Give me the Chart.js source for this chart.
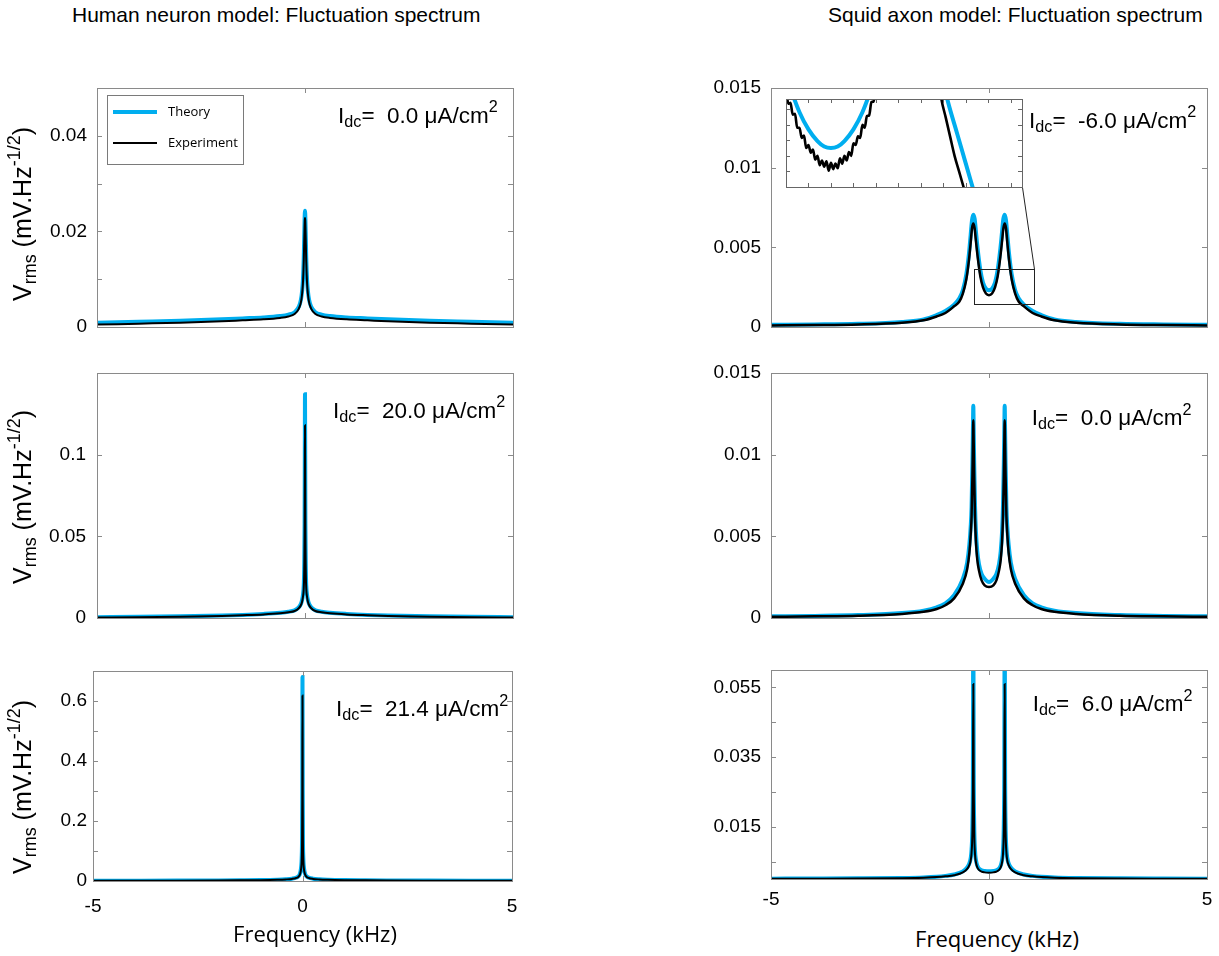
<!DOCTYPE html>
<html>
<head>
<meta charset="utf-8">
<script src="https://cdn.jsdelivr.net/npm/chart.js@4.4.1/dist/chart.umd.min.js"></script>
<style>
  body { margin: 0; width: 1219px; height: 956px; position: relative; overflow: hidden; background: #fff;
         font-family: Arial, "Liberation Sans", sans-serif; color: #000; }
  canvas { position: absolute; }
  .txt { position: absolute; line-height: 0; white-space: nowrap; z-index: 5; }
  .title { font-size: 21px; }
  .note { font-size: 22.5px; }
  .xlab { font-family: "Open Sans", sans-serif; font-size: 22px; transform: translateX(-50%); }
  .ylab { position: absolute; z-index: 5; font-size: 25px; line-height: 25px; white-space: nowrap;
          transform: translate(-50%, -50%) rotate(-90deg); }
  .sb { position: relative; top: 0.28em; font-size: 0.72em; }
  .sp { position: relative; top: -0.62em; font-size: 0.72em; }
</style>
</head>
<body>

<div class="txt title" style="left:72px;top:14.7px">Human neuron model: Fluctuation spectrum</div>
<div class="txt title" style="left:828px;top:14.7px">Squid axon model: Fluctuation spectrum</div>

<div class="ylab" style="left:24px;top:214px">V<span class="sb">rms</span> (mV.Hz<span class="sp">-1/2</span>)</div>
<div class="ylab" style="left:24px;top:497px">V<span class="sb">rms</span> (mV.Hz<span class="sp">-1/2</span>)</div>
<div class="ylab" style="left:24px;top:787px">V<span class="sb">rms</span> (mV.Hz<span class="sp">-1/2</span>)</div>

<div class="txt note" style="left:338px;top:115.5px">I<span class="sb">dc</span>=&nbsp; 0.0 &mu;A/cm<span class="sp">2</span></div>
<div class="txt note" style="left:333px;top:410.5px">I<span class="sb">dc</span>=&nbsp; 20.0 &mu;A/cm<span class="sp">2</span></div>
<div class="txt note" style="left:336px;top:708.9px">I<span class="sb">dc</span>=&nbsp; 21.4 &mu;A/cm<span class="sp">2</span></div>
<div class="txt note" style="left:1029px;top:120.5px">I<span class="sb">dc</span>=&nbsp; -6.0 &mu;A/cm<span class="sp">2</span></div>
<div class="txt note" style="left:1031.7px;top:417.9px">I<span class="sb">dc</span>=&nbsp; 0.0 &mu;A/cm<span class="sp">2</span></div>
<div class="txt note" style="left:1032.7px;top:703.9px">I<span class="sb">dc</span>=&nbsp; 6.0 &mu;A/cm<span class="sp">2</span></div>

<div class="txt xlab" style="left:315px;top:933px">Frequency (kHz)</div>
<div class="txt xlab" style="left:997px;top:938px">Frequency (kHz)</div>

<script>
// ---- data (kHz, mV.Hz^-1/2) ----
const freqHuman = [-5, -4, -3, -2, -1.5, -1, -0.6, -0.4, -0.25, -0.15, -0.1, -0.07, -0.05, -0.03, -0.02, -0.01, -0.005, 0,
                   0.005, 0.01, 0.02, 0.03, 0.05, 0.07, 0.1, 0.15, 0.25, 0.4, 0.6, 1, 1.5, 2, 3, 4, 5];

// human neuron, Idc = 0.0
const theoryH1 = [0.0009, 0.0011, 0.0013, 0.0016, 0.0018, 0.002, 0.0023, 0.0026, 0.0031, 0.0042, 0.0056, 0.0075, 0.0098, 0.0145, 0.0185, 0.0225, 0.0238, 0.0243,
                  0.0238, 0.0225, 0.0185, 0.0145, 0.0098, 0.0075, 0.0056, 0.0042, 0.0031, 0.0026, 0.0023, 0.002, 0.0018, 0.0016, 0.0013, 0.0011, 0.0009];
const exptH1 = [0.0005, 0.0007, 0.0009, 0.0012, 0.0014, 0.0016, 0.0019, 0.0022, 0.0027, 0.0038, 0.0051, 0.0069, 0.0091, 0.0136, 0.0174, 0.021, 0.0223, 0.0228,
                0.0223, 0.021, 0.0174, 0.0136, 0.0091, 0.0069, 0.0051, 0.0038, 0.0027, 0.0022, 0.0019, 0.0016, 0.0014, 0.0012, 0.0009, 0.0007, 0.0005];

// human neuron, Idc = 20.0
const theoryH2 = [0.0005, 0.0007, 0.001, 0.0015, 0.0019, 0.0025, 0.0032, 0.0038, 0.0047, 0.0065, 0.0085, 0.011, 0.014, 0.02, 0.03, 0.058, 0.1, 0.137,
                  0.1, 0.058, 0.03, 0.02, 0.014, 0.011, 0.0085, 0.0065, 0.0047, 0.0038, 0.0032, 0.0025, 0.0019, 0.0015, 0.001, 0.0007, 0.0005];
const exptH2 = [0.0003, 0.0005, 0.0008, 0.0013, 0.0017, 0.0022, 0.0029, 0.0035, 0.0043, 0.006, 0.0078, 0.01, 0.0128, 0.018, 0.027, 0.052, 0.088, 0.118,
                0.088, 0.052, 0.027, 0.018, 0.0128, 0.01, 0.0078, 0.006, 0.0043, 0.0035, 0.0029, 0.0022, 0.0017, 0.0013, 0.0008, 0.0005, 0.0003];

// human neuron, Idc = 21.4
const theoryH3 = [0.001, 0.0012, 0.0015, 0.002, 0.0025, 0.0032, 0.0045, 0.0058, 0.0078, 0.011, 0.015, 0.021, 0.03, 0.05, 0.075, 0.15, 0.3, 0.68,
                  0.3, 0.15, 0.075, 0.05, 0.03, 0.021, 0.015, 0.011, 0.0078, 0.0058, 0.0045, 0.0032, 0.0025, 0.002, 0.0015, 0.0012, 0.001];
const exptH3 = [0.0006, 0.0008, 0.0011, 0.0016, 0.0021, 0.0028, 0.004, 0.0052, 0.007, 0.01, 0.0137, 0.019, 0.027, 0.045, 0.068, 0.136, 0.27, 0.618,
                0.27, 0.136, 0.068, 0.045, 0.027, 0.019, 0.0137, 0.01, 0.007, 0.0052, 0.004, 0.0028, 0.0021, 0.0016, 0.0011, 0.0008, 0.0006];

const freqSquidA = [-5, -4, -3, -2, -1.5, -1.2, -1, -0.8, -0.68, -0.6, -0.52, -0.46, -0.42, -0.39, -0.36, -0.33, -0.3, -0.26, -0.2, -0.14, -0.07, 0,
                    0.07, 0.14, 0.2, 0.26, 0.3, 0.33, 0.36, 0.39, 0.42, 0.46, 0.52, 0.6, 0.68, 0.8, 1, 1.2, 1.5, 2, 3, 4, 5];

// squid axon, Idc = -6.0
const theoryS1 = [0.00014, 0.00016, 0.0002, 0.00032, 0.00048, 0.00075, 0.001, 0.0014, 0.0018, 0.0023, 0.0033, 0.0046, 0.0058, 0.0067, 0.00705, 0.0068, 0.006, 0.0049, 0.0036, 0.0028, 0.0024, 0.0023,
                  0.0024, 0.0028, 0.0036, 0.0049, 0.006, 0.0068, 0.00705, 0.0067, 0.0058, 0.0046, 0.0033, 0.0023, 0.0018, 0.0014, 0.001, 0.00075, 0.00048, 0.00032, 0.0002, 0.00016, 0.00014];
const exptS1 = [0.0001, 0.00012, 0.00016, 0.00027, 0.00042, 0.00066, 0.00088, 0.0013, 0.0016, 0.0021, 0.003, 0.0042, 0.0053, 0.0062, 0.0065, 0.0062, 0.0054, 0.0044, 0.0032, 0.0025, 0.0021, 0.002,
                0.0021, 0.0025, 0.0032, 0.0044, 0.0054, 0.0062, 0.0065, 0.0062, 0.0053, 0.0042, 0.003, 0.0021, 0.0016, 0.0013, 0.00088, 0.00066, 0.00042, 0.00027, 0.00016, 0.00012, 0.0001];

const freqSquidB = [-5, -4, -3, -2, -1.5, -1.2, -1, -0.8, -0.6, -0.5, -0.45, -0.42, -0.4, -0.38, -0.37, -0.36, -0.35, -0.34, -0.32, -0.3, -0.27, -0.23, -0.17, -0.1, 0,
                    0.1, 0.17, 0.23, 0.27, 0.3, 0.32, 0.34, 0.35, 0.36, 0.37, 0.38, 0.4, 0.42, 0.45, 0.5, 0.6, 0.8, 1, 1.2, 1.5, 2, 3, 4, 5];

// squid axon, Idc = 0.0
const theoryS2 = [0.0001, 0.00013, 0.00018, 0.0003, 0.00045, 0.00065, 0.0009, 0.0014, 0.0024, 0.0034, 0.0045, 0.0056, 0.0068, 0.0095, 0.0113, 0.013, 0.0113, 0.0095, 0.0068, 0.0053, 0.0041, 0.0033, 0.0027, 0.0024, 0.0022,
                  0.0024, 0.0027, 0.0033, 0.0041, 0.0053, 0.0068, 0.0095, 0.0113, 0.013, 0.0113, 0.0095, 0.0068, 0.0056, 0.0045, 0.0034, 0.0024, 0.0014, 0.0009, 0.00065, 0.00045, 0.0003, 0.00018, 0.00013, 0.0001];
const exptS2 = [0.00007, 0.0001, 0.00014, 0.00025, 0.00038, 0.00055, 0.00078, 0.0012, 0.0021, 0.003, 0.004, 0.0051, 0.0062, 0.0087, 0.0105, 0.0121, 0.0105, 0.0087, 0.0061, 0.0047, 0.0036, 0.0029, 0.0023, 0.002, 0.0019,
                0.002, 0.0023, 0.0029, 0.0036, 0.0047, 0.0061, 0.0087, 0.0105, 0.0121, 0.0105, 0.0087, 0.0062, 0.0051, 0.004, 0.003, 0.0021, 0.0012, 0.00078, 0.00055, 0.00038, 0.00025, 0.00014, 0.0001, 0.00007];

// squid axon, Idc = 6.0
const theoryS3 = [0.0001, 0.00013, 0.00018, 0.0003, 0.00045, 0.00065, 0.0009, 0.0013, 0.0022, 0.0033, 0.0045, 0.006, 0.0085, 0.016, 0.03, 0.08, 0.03, 0.016, 0.008, 0.0055, 0.0039, 0.003, 0.0025, 0.0023, 0.0022,
                  0.0023, 0.0025, 0.003, 0.0039, 0.0055, 0.008, 0.016, 0.03, 0.08, 0.03, 0.016, 0.0085, 0.006, 0.0045, 0.0033, 0.0022, 0.0013, 0.0009, 0.00065, 0.00045, 0.0003, 0.00018, 0.00013, 0.0001];
const exptS3 = [0.00006, 0.00009, 0.00013, 0.00024, 0.00037, 0.00054, 0.00076, 0.0011, 0.0019, 0.0029, 0.004, 0.0053, 0.0075, 0.014, 0.026, 0.056, 0.026, 0.014, 0.007, 0.0048, 0.0034, 0.0026, 0.0021, 0.0019, 0.0018,
                0.0019, 0.0021, 0.0026, 0.0034, 0.0048, 0.007, 0.014, 0.026, 0.056, 0.026, 0.014, 0.0075, 0.0053, 0.004, 0.0029, 0.0019, 0.0011, 0.00076, 0.00054, 0.00037, 0.00024, 0.00013, 0.00009, 0.00006];

// inset (zoom of the dip, Idc = -6.0)
const insetTheoryDipX = [-0.22, -0.18, -0.14, -0.1, -0.06, -0.03, 0, 0.03, 0.06, 0.1, 0.14, 0.18, 0.22];
const insetTheoryDip = [0.00345, 0.00307, 0.00276, 0.00254, 0.00239, 0.00232, 0.0023, 0.00232, 0.00239, 0.00254, 0.00276, 0.00307, 0.00345];
const insetTheoryFlankX = [0.48, 0.52, 0.56, 0.6, 0.64];
const insetTheoryFlank = [0.0034, 0.0029, 0.0025, 0.0021, 0.0017];
const insetExptDipX = [-0.22, -0.21, -0.2, -0.19, -0.18, -0.17, -0.16, -0.15, -0.14, -0.13, -0.12, -0.11, -0.1, -0.09, -0.08, -0.07, -0.06, -0.05, -0.04, -0.03, -0.02, -0.01, 0,
                       0.01, 0.02, 0.03, 0.04, 0.05, 0.06, 0.07, 0.08, 0.09, 0.1, 0.11, 0.12, 0.13, 0.14, 0.15, 0.16, 0.17, 0.18, 0.19, 0.2, 0.21, 0.22];
const insetExptDip = [0.00328, 0.00308, 0.00306, 0.00287, 0.00288, 0.00273, 0.00274, 0.00256, 0.00256, 0.00243, 0.00246, 0.0023, 0.00234, 0.00224, 0.00228, 0.00215, 0.0022, 0.00208, 0.00214, 0.00206, 0.00213, 0.00201, 0.00211,
                      0.00203, 0.0021, 0.00204, 0.00217, 0.0021, 0.0022, 0.00214, 0.00225, 0.0022, 0.00236, 0.00234, 0.00245, 0.00243, 0.0026, 0.00256, 0.00271, 0.00272, 0.00289, 0.0029, 0.00307, 0.00306, 0.00325];
const insetExptFlankX = [0.47, 0.49, 0.51, 0.53, 0.55, 0.57, 0.59, 0.61];
const insetExptFlank = [0.0034, 0.00295, 0.0027, 0.00245, 0.0022, 0.002, 0.0018, 0.0016];

// ticks and tick labels
const xTicksTop = [0];
const xTicksBottom = [-5, 0, 5];
const xLabelsBottom = [-5, 0, 5];
const yTicksH1 = [0, 0.01, 0.02, 0.03, 0.04];
const yLabelsH1 = [0, 0.02, 0.04];
const yTicksH2 = [0, 0.05, 0.1];
const yLabelsH2 = [0, 0.05, 0.1];
const yTicksH3 = [0, 0.1, 0.2, 0.3, 0.4, 0.5, 0.6];
const yLabelsH3 = [0, 0.2, 0.4, 0.6];
const yTicksS12 = [0, 0.005, 0.01, 0.015];
const yLabelsS12 = [0, 0.005, 0.01, 0.015];
const yTicksS3 = [0.005, 0.015, 0.025, 0.035, 0.045, 0.055];
const yLabelsS3 = [0.015, 0.035, 0.055];
const insetXTicks = [-0.2, -0.1, 0, 0.1, 0.2, 0.3, 0.4, 0.5, 0.6, 0.7, 0.8];
const insetYTicks = [0.002, 0.0022, 0.0024, 0.0026, 0.0028];
const zoomBoxX = [-0.34, 1.03];
const zoomBoxY = [0.00147, 0.00362];

// ---- styles / layout ----
const CYAN = '#00aeef';
const TICK_FONT = { family: 'Arial, "Liberation Sans", sans-serif', size: 19 };
const insetArea = [786, 99, 1022, 187];   // l, t, r, b on the page

function pts(xs, ys) {
    return xs.map((x, i) => ({ x: x, y: ys[i] }));
}

function lineSet(label, xs, ys, color, width, order) {
    return {
        label: label, data: pts(xs, ys), borderColor: color, borderWidth: width,
        pointRadius: 0, fill: false, cubicInterpolationMode: 'monotone', order: order
    };
}

// box round the plot area with inward ticks on all four sides
function boxPlugin(xTicks, yTicks, len, color, whiteBg) {
    return {
        id: 'boxTicks',
        beforeDatasetsDraw(chart) {
            if (!whiteBg) return;
            const a = chart.chartArea;
            chart.ctx.save();
            chart.ctx.fillStyle = '#fff';
            chart.ctx.fillRect(a.left, a.top, a.right - a.left, a.bottom - a.top);
            chart.ctx.restore();
        },
        afterDatasetsDraw(chart) {
            const a = chart.chartArea, ctx = chart.ctx;
            const xs = chart.scales.x, ys = chart.scales.y;
            ctx.save();
            ctx.strokeStyle = color;
            ctx.lineWidth = 1;
            ctx.beginPath();
            xTicks.forEach(v => {
                const px = Math.round(xs.getPixelForValue(v)) + 0.5;
                ctx.moveTo(px, a.bottom); ctx.lineTo(px, a.bottom - len);
                ctx.moveTo(px, a.top); ctx.lineTo(px, a.top + len);
            });
            yTicks.forEach(v => {
                const py = Math.round(ys.getPixelForValue(v)) + 0.5;
                ctx.moveTo(a.left, py); ctx.lineTo(a.left + len, py);
                ctx.moveTo(a.right, py); ctx.lineTo(a.right - len, py);
            });
            ctx.stroke();
            ctx.strokeRect(a.left + 0.5, a.top + 0.5, a.right - a.left, a.bottom - a.top);
            ctx.restore();
        }
    };
}

function legendPlugin() {
    return {
        id: 'legendBox',
        afterDraw(chart) {
            const a = chart.chartArea, ctx = chart.ctx;
            const x = a.left + 10, y = a.top + 7;
            ctx.save();
            ctx.fillStyle = '#fff';
            ctx.fillRect(x, y, 136, 69);
            ctx.strokeStyle = '#7a7a7a';
            ctx.lineWidth = 1;
            ctx.strokeRect(x + 0.5, y + 0.5, 136, 69);
            ['Theory', 'Experiment'].forEach((name, i) => {
                const d = chart.data.datasets.find(ds => ds.label === name);
                const cy = y + 17 + i * 31;
                ctx.strokeStyle = d.borderColor;
                ctx.lineWidth = d.borderWidth;
                ctx.beginPath();
                ctx.moveTo(x + 6, cy);
                ctx.lineTo(x + 50, cy);
                ctx.stroke();
                ctx.fillStyle = '#000';
                ctx.font = '13px "Open Sans", sans-serif';
                ctx.textBaseline = 'middle';
                ctx.fillText(d.label, x + 61, cy);
            });
            ctx.restore();
        }
    };
}

// zoom rectangle + connector up to the inset corner
function zoomBoxPlugin(toX, toY) {
    return {
        id: 'zoomBox',
        afterDatasetsDraw(chart) {
            const ctx = chart.ctx, xs = chart.scales.x, ys = chart.scales.y;
            const x0 = Math.round(xs.getPixelForValue(zoomBoxX[0])) + 0.5;
            const x1 = Math.round(xs.getPixelForValue(zoomBoxX[1])) + 0.5;
            const y0 = Math.round(ys.getPixelForValue(zoomBoxY[1])) + 0.5;
            const y1 = Math.round(ys.getPixelForValue(zoomBoxY[0])) + 0.5;
            ctx.save();
            ctx.strokeStyle = '#222';
            ctx.lineWidth = 1;
            ctx.strokeRect(x0, y0, x1 - x0, y1 - y0);
            ctx.beginPath();
            ctx.moveTo(x1, y0);
            ctx.lineTo(toX, toY);
            ctx.stroke();
            ctx.restore();
        }
    };
}

function makePanel(p) {
    // label offsets go through tickLength (not padding) so Chart.js adds no extra inner padding
    const yW = 80, padT = 14, padR = 10;
    const l = p.area[0], t = p.area[1], r = p.area[2], b = p.area[3];
    const cv = document.createElement('canvas');
    cv.width = r - l + yW + padR;
    cv.height = b - t + padT + p.xH;
    cv.style.left = (l - yW) + 'px';
    cv.style.top = (t - padT) + 'px';
    cv.style.zIndex = 1;
    document.body.appendChild(cv);

    const plugins = [boxPlugin(p.xTicks, p.yTicks, 5, '#8a8a8a', false)];
    if (p.legend) plugins.push(legendPlugin());
    if (p.zoom) plugins.push(zoomBoxPlugin(insetArea[2] - (l - yW) + 0.5, insetArea[3] - (t - padT) + 0.5));

    return new Chart(cv, {
        type: 'line',
        data: {
            datasets: [
                lineSet('Experiment', p.freq, p.expt, '#000', p.exptWidth || 2, 0),
                lineSet('Theory', p.freq, p.theory, CYAN, 4, 1)
            ]
        },
        options: {
            responsive: false,
            animation: false,
            events: [],
            layout: { autoPadding: false, padding: { left: 0, top: padT, right: padR, bottom: 0 } },
            plugins: { legend: { display: false }, tooltip: { enabled: false } },
            scales: {
                x: {
                    type: 'linear', min: -5, max: 5,
                    afterBuildTicks: s => { s.ticks = p.xTicks.map(v => ({ value: v })); },
                    afterFit: s => { s.height = p.xH; },
                    grid: { display: false, drawTicks: true, tickLength: p.xPad },
                    border: { display: false },
                    ticks: {
                        display: p.xLabels.length > 0, autoSkip: false, maxRotation: 0,
                        padding: 0, color: '#000', font: TICK_FONT,
                        callback: v => p.xLabels.includes(v) ? String(v) : ''
                    }
                },
                y: {
                    type: 'linear', min: 0, max: p.yMax,
                    afterBuildTicks: s => { s.ticks = p.yTicks.map(v => ({ value: v })); },
                    afterFit: s => { s.width = yW; },
                    grid: { display: false, drawTicks: true, tickLength: p.yPad },
                    border: { display: false },
                    ticks: {
                        autoSkip: false, padding: 0, color: '#000', font: TICK_FONT,
                        callback: v => p.yLabels.includes(v) ? String(v) : ''
                    }
                }
            }
        },
        plugins: plugins
    });
}

function makeInset() {
    const pad = 3;
    const l = insetArea[0], t = insetArea[1], r = insetArea[2], b = insetArea[3];
    const cv = document.createElement('canvas');
    cv.width = r - l + 2 * pad;
    cv.height = b - t + 2 * pad;
    cv.style.left = (l - pad) + 'px';
    cv.style.top = (t - pad) + 'px';
    cv.style.zIndex = 3;
    document.body.appendChild(cv);

    return new Chart(cv, {
        type: 'line',
        data: {
            datasets: [
                lineSet('Experiment', insetExptDipX, insetExptDip, '#000', 2.6, 0),
                lineSet('Experiment', insetExptFlankX, insetExptFlank, '#000', 2.6, 0),
                lineSet('Theory', insetTheoryDipX, insetTheoryDip, CYAN, 4, 1),
                lineSet('Theory', insetTheoryFlankX, insetTheoryFlank, CYAN, 4, 1)
            ]
        },
        options: {
            responsive: false,
            animation: false,
            events: [],
            layout: { autoPadding: false, padding: pad },
            plugins: { legend: { display: false }, tooltip: { enabled: false } },
            scales: {
                x: { type: 'linear', min: -0.2, max: 0.85, display: false },
                y: { type: 'linear', min: 0.0018, max: 0.00293, display: false }
            }
        },
        plugins: [boxPlugin(insetXTicks, insetYTicks, 4, '#666', true)]
    });
}

makePanel({ area: [97, 88, 513, 327], xH: 13, xPad: 0, yPad: 10, freq: freqHuman, theory: theoryH1, expt: exptH1,
            yMax: 0.05, yTicks: yTicksH1, yLabels: yLabelsH1, xTicks: xTicksTop, xLabels: [], legend: true });
makePanel({ area: [97, 373, 513, 618], xH: 13, xPad: 0, yPad: 11, freq: freqHuman, theory: theoryH2, expt: exptH2,
            yMax: 0.15, yTicks: yTicksH2, yLabels: yLabelsH2, xTicks: xTicksTop, xLabels: [] });
makePanel({ area: [93, 671, 512, 881], xH: 40, xPad: 14, yPad: 6, freq: freqHuman, theory: theoryH3, expt: exptH3,
            yMax: 0.7, yTicks: yTicksH3, yLabels: yLabelsH3, xTicks: xTicksBottom, xLabels: xLabelsBottom });
makePanel({ area: [771, 88, 1207, 327], xH: 13, xPad: 0, yPad: 10, freq: freqSquidA, theory: theoryS1, expt: exptS1,
            yMax: 0.015, yTicks: yTicksS12, yLabels: yLabelsS12, xTicks: xTicksTop, xLabels: [], zoom: true, exptWidth: 2.5 });
makePanel({ area: [771, 373, 1207, 618], xH: 13, xPad: 0, yPad: 10, freq: freqSquidB, theory: theoryS2, expt: exptS2,
            yMax: 0.015, yTicks: yTicksS12, yLabels: yLabelsS12, xTicks: xTicksTop, xLabels: [], exptWidth: 2.5 });
makePanel({ area: [771, 670, 1207, 879], xH: 40, xPad: 9, yPad: 10, freq: freqSquidB, theory: theoryS3, expt: exptS3,
            yMax: 0.06, yTicks: yTicksS3, yLabels: yLabelsS3, xTicks: xTicksBottom, xLabels: xLabelsBottom });
makeInset();
</script>
</body>
</html>
